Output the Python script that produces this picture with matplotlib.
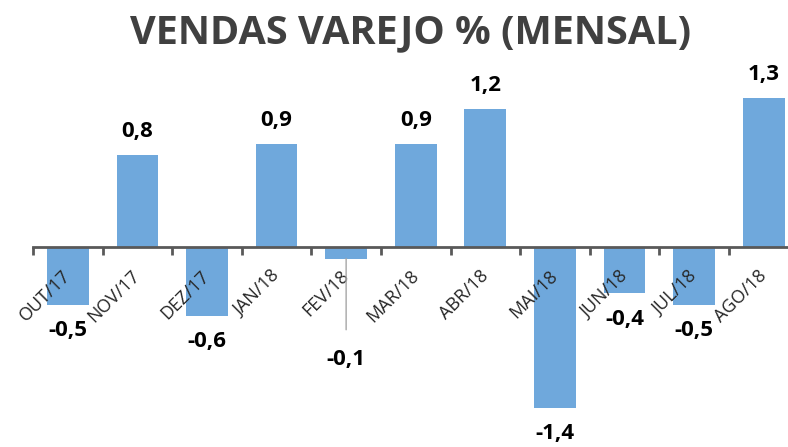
import matplotlib.pyplot as plt

meses = ["OUT/17", "NOV/17", "DEZ/17", "JAN/18", "FEV/18", "MAR/18",
         "ABR/18", "MAI/18", "JUN/18", "JUL/18", "AGO/18"]
vendas = [-0.5, 0.8, -0.6, 0.9, -0.1, 0.9, 1.2, -1.4, -0.4, -0.5, 1.3]

plt.rcParams['font.family'] = ['Open Sans', 'DejaVu Sans']

fig = plt.figure(figsize=(7.88, 4.47), dpi=100)
ax = fig.add_axes([33 / 788, 0, 1 - 33 / 788, 1])

x = list(range(len(meses)))
ax.bar(x, vendas, width=0.6, color='#6FA8DC', zorder=1)
ax.set_axisbelow(False)

# eixo no zero, ticks nas divisas entre meses
for s in ['top', 'right', 'left']:
    ax.spines[s].set_visible(False)
ax.spines['bottom'].set_position(('data', 0))
ax.spines['bottom'].set_color('#595959')
ax.spines['bottom'].set_linewidth(2)
ax.spines['bottom'].set_zorder(3)
ax.set_yticks([])
ax.set_xticks([i - 0.5 for i in range(len(meses) + 1)])
ax.set_xticklabels([])
ax.tick_params(axis='x', which='major', direction='out', length=6, width=2,
               color='#595959')
ax.set_xticks(x, minor=True)
ax.set_xticklabels(meses, minor=True, rotation=45, ha='right', va='center',
                   rotation_mode='anchor', fontsize=13, color='#262626')
ax.tick_params(axis='x', which='minor', length=0, pad=19)

# limites depois dos ticks (set_xticks expande a vista)
ax.set_xlim(-0.5, 10.35)
ax.set_ylim(-200 / 115, 247 / 115)

for i, v in enumerate(vendas):
    txt = f"{v:.1f}".replace('.', ',')
    if meses[i] == "FEV/18":
        ax.annotate(txt, xy=(i, v), xytext=(i, -0.98), ha='center', va='center',
                    fontsize=16, fontweight='bold',
                    arrowprops=dict(arrowstyle='-', color='#A6A6A6', lw=1,
                                    shrinkA=12, shrinkB=0))
    else:
        off = 23 if v > 0 else -26
        ax.annotate(txt, xy=(i, v), xytext=(0, off), textcoords='offset pixels',
                    ha='center', va='center', fontsize=16, fontweight='bold')

fig.text((33 + 788) / 2 / 788, 1 - 33 / 447, "VENDAS VAREJO % (MENSAL)",
         ha='center', va='center', fontsize=28.5, fontweight='bold', color='#404040')

fig.savefig("out.png", dpi=100)
